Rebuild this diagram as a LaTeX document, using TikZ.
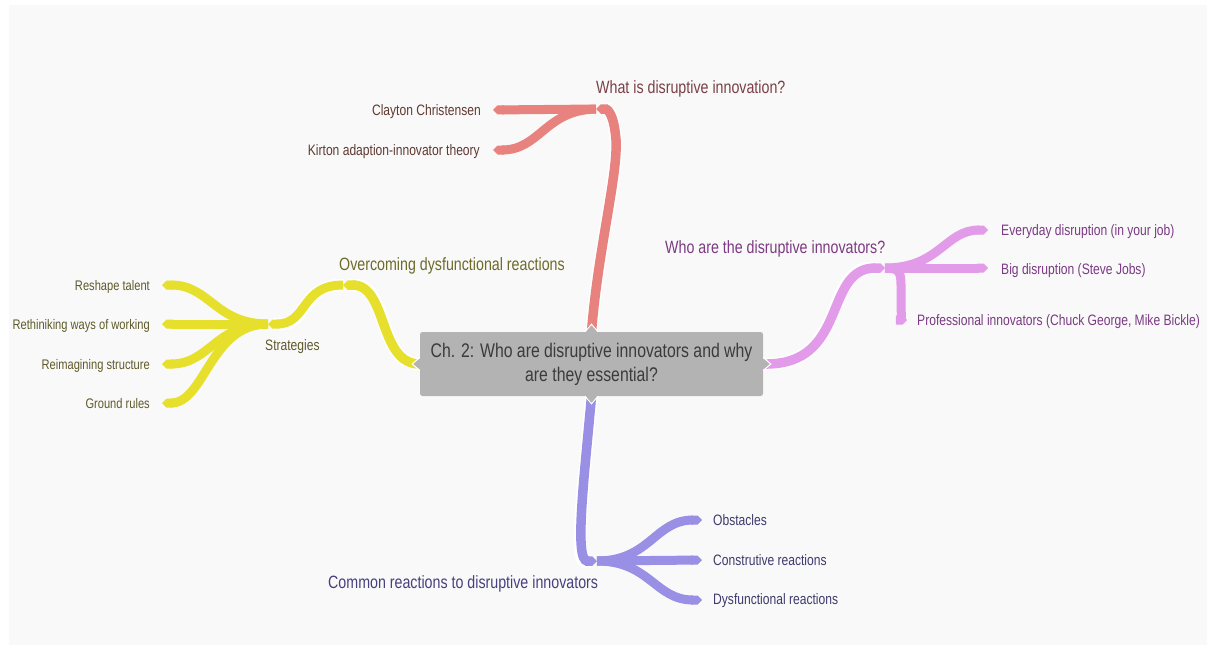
\documentclass[tikz,border=0pt]{standalone}
\usepackage{fontspec}
\usetikzlibrary{arrows.meta,calc}
\newfontfamily\mapfont{Liberation Sans}[FakeStretch=0.8]

\definecolor{panel}{HTML}{F9F9F9}
\definecolor{boxgray}{HTML}{B3B3B3}
\definecolor{roottxt}{HTML}{3B3B3B}
\definecolor{redline}{HTML}{E8827E}
\definecolor{redhead}{HTML}{7A4048}
\definecolor{redleaf}{HTML}{603A33}
\definecolor{yelline}{HTML}{E6E02C}
\definecolor{yelhead}{HTML}{6E6A2A}
\definecolor{yelleaf}{HTML}{5E5A2A}
\definecolor{purline}{HTML}{E29BE8}
\definecolor{purhead}{HTML}{7C3A82}
\definecolor{purleaf}{HTML}{7B3A84}
\definecolor{bluline}{HTML}{998FE5}
\definecolor{bluhead}{HTML}{47407E}
\definecolor{bluleaf}{HTML}{3E3A6C}

\pgfdeclarelayer{bg}
\pgfdeclarelayer{branches}
\pgfsetlayers{bg,branches,main}

\begin{document}
\begin{tikzpicture}[x=1pt,y=-1pt,
  link/.style={line width=9pt,-{Triangle Cap}},
  trunk/.style={line width=9.5pt,-{Triangle Cap},
    preaction={draw=white,line width=12.5pt}},
  rootbox/.style={fill=boxgray,rounded corners=2.5pt,minimum width=343pt,
    minimum height=64pt,inner sep=0pt,align=center,text=roottxt,
    font=\mapfont\fontsize{19.75}{24}\selectfont},
  lone/.style={inner sep=0pt,text height=12.8pt,text depth=3.6pt,
    font=\mapfont\fontsize{17.8}{20}\selectfont},
  ltwo/.style={inner sep=0pt,text height=10.9pt,text depth=3pt,
    font=\mapfont\fontsize{15.1}{17}\selectfont},
  lthree/.style={inner sep=0pt,text height=10pt,text depth=2.8pt,
    font=\mapfont\fontsize{13.9}{16}\selectfont},
  spike/.pic={
    \fill[boxgray] (-6,0.6) -- (0,-7) -- (6,0.6) -- cycle;
    \draw[white,line width=1pt] (-6.5,0) -- (0,-7.6) -- (6.5,0);}
]
\useasboundingbox (0,0) rectangle (1207,648);

\begin{pgfonlayer}{bg}
  \fill[white] (0,0) rectangle (1207,648);
  \fill[panel] (9,5) rectangle (1207,645);
\end{pgfonlayer}

% central topic
\node[rootbox] (root) at (591.5,364)
  {Ch. 2: Who are disruptive innovators and why\\are they essential?};

% junctions and branch ends
\coordinate (rj) at (596,109);
\coordinate (yj) at (343,285);
\coordinate (sj) at (268,324);
\coordinate (pj) at (885,268);
\coordinate (bj) at (597,561);

\coordinate (e-clayton) at (493,110);
\coordinate (e-kirton) at (493,150);
\coordinate (e-reshape) at (162,285);
\coordinate (e-rethink) at (162,324);
\coordinate (e-reimagine) at (162,364);
\coordinate (e-ground) at (162,403);
\coordinate (e-everyday) at (988,230);
\coordinate (e-big) at (988,268);
\coordinate (e-prof) at (907,320);
\coordinate (e-obst) at (702,520);
\coordinate (e-constr) at (702,560);
\coordinate (e-dysf) at (702,600);

\begin{pgfonlayer}{branches}
  % what is disruptive innovation
  \draw[link,redline] (rj) -- (e-clayton);
  \draw[link,redline] (rj) .. controls (545,110) and (540,150) .. (e-kirton);
  \draw[trunk,redline] (root.north) .. controls (598,250) and (618,175) .. (616,140)
    .. controls (614,113) and (607,109) .. (rj);

  % overcoming dysfunctional reactions
  \draw[link,yelline] (sj) .. controls (215,324) and (210,285) .. (e-reshape);
  \draw[link,yelline] (sj) -- (e-rethink);
  \draw[link,yelline] (sj) .. controls (215,324) and (210,364) .. (e-reimagine);
  \draw[link,yelline] (sj) .. controls (210,324) and (205,403) .. (e-ground);
  \draw[trunk,yelline,line width=9pt] (yj) .. controls (300,285) and (308,324) .. (sj);
  \draw[trunk,yelline] (root.west) .. controls (378,364) and (388,285) .. (yj);

  % who are the disruptive innovators
  \draw[link,purline] (pj) .. controls (940,268) and (945,230) .. (e-everyday);
  \draw[link,purline] (pj) -- (e-big);
  \draw[link,purline] (pj) .. controls (899,268) and (901,272) .. (901,285)
    -- (901,305) .. controls (901,316) and (903,320) .. (e-prof);
  \draw[trunk,purline] (root.east) .. controls (850,366) and (822,268) .. (pj);

  % common reactions
  \draw[link,bluline] (bj) .. controls (650,561) and (655,520) .. (e-obst);
  \draw[link,bluline] (bj) -- (e-constr);
  \draw[link,bluline] (bj) .. controls (650,561) and (655,600) .. (e-dysf);
  \draw[trunk,bluline] (root.south) .. controls (584,480) and (574,561) .. (bj);
\end{pgfonlayer}

% small points of the central box towards each branch
\pic at (root.north) {spike};
\pic[rotate=180] at (root.south) {spike};
\pic[rotate=90] at (root.west) {spike};
\pic[rotate=-90] at (root.east) {spike};

% labels
\node[lone,text=redhead,anchor=west] (whatis) at (596,89) {What is disruptive innovation?};
\node[ltwo,text=redleaf,anchor=east] (clayton) at (481,112) {Clayton Christensen};
\node[ltwo,text=redleaf,anchor=east] (kirton) at (480,152) {Kirton adaption-innovator theory};

\node[lone,text=yelhead,anchor=west] (overcoming) at (339,266) {Overcoming dysfunctional reactions};
\node[ltwo,text=yelleaf,anchor=west] (strategies) at (265,347) {Strategies};
\node[lthree,text=yelleaf,anchor=east] (reshape) at (150,287) {Reshape talent};
\node[lthree,text=yelleaf,anchor=east] (rethink) at (150,326) {Rethiniking ways of working};
\node[lthree,text=yelleaf,anchor=east] (reimagine) at (150,366) {Reimagining structure};
\node[lthree,text=yelleaf,anchor=east] (ground) at (150,405) {Ground rules};

\node[lone,text=purhead,anchor=west] (who) at (665,249) {Who are the disruptive innovators?};
\node[ltwo,text=purleaf,anchor=west] (everyday) at (1001,232) {Everyday disruption (in your job)};
\node[ltwo,text=purleaf,anchor=west] (big) at (1001,271) {Big disruption (Steve Jobs)};
\node[ltwo,text=purleaf,anchor=west] (prof) at (917,322) {Professional innovators (Chuck George, Mike Bickle)};

\node[lone,text=bluhead,anchor=west] (common) at (328,584) {Common reactions to disruptive innovators};
\node[ltwo,text=bluleaf,anchor=west] (obst) at (713,522) {Obstacles};
\node[ltwo,text=bluleaf,anchor=west] (constr) at (713,562) {Construtive reactions};
\node[ltwo,text=bluleaf,anchor=west] (dysf) at (713,601) {Dysfunctional reactions};
\end{tikzpicture}
\end{document}
